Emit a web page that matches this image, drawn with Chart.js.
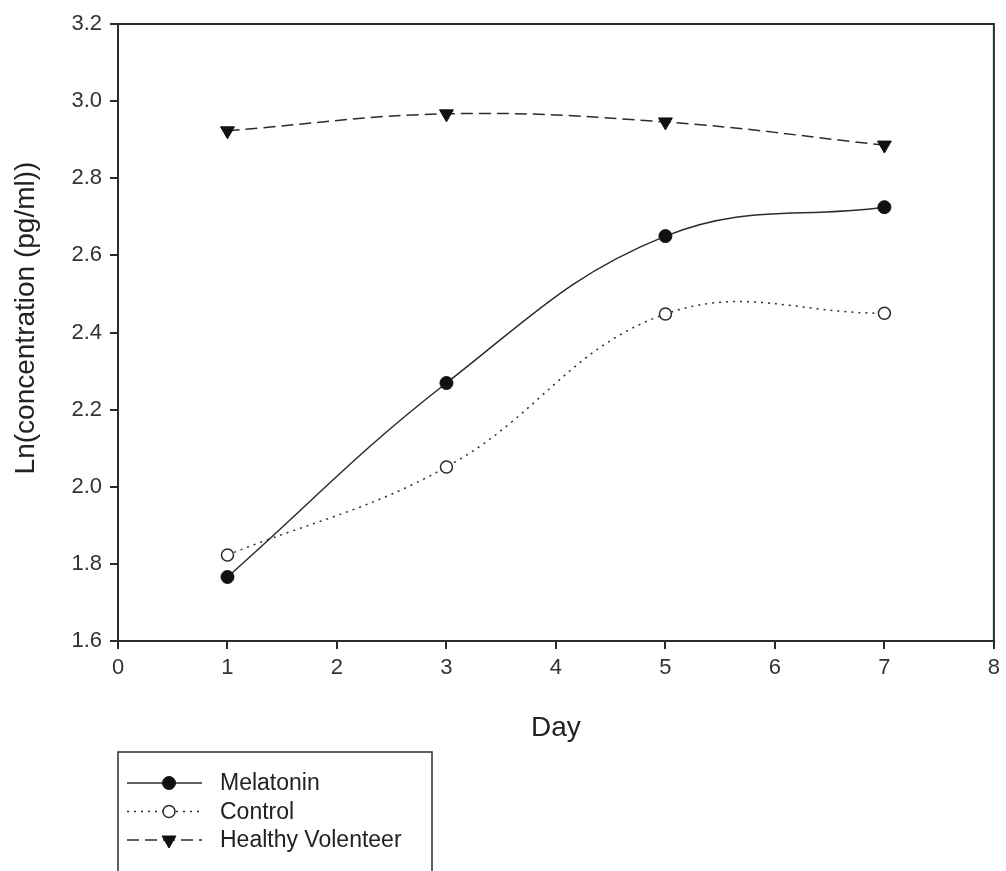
<!DOCTYPE html>
<html>
<head>
<meta charset="utf-8">
<script src="https://cdn.jsdelivr.net/npm/chart.js@4"></script>
<style>
  html, body { margin: 0; padding: 0; background: #fff; }
  #wrap { width: 1006px; height: 871px; position: relative; }
</style>
</head>
<body>
<div id="wrap"><canvas id="chart"></canvas></div>
<script>
// data
const days       = [1, 3, 5, 7];
const melatonin  = [1.766, 2.269, 2.650, 2.725];
const control    = [1.823, 2.051, 2.448, 2.450];
const healthy    = [2.923, 2.967, 2.946, 2.886];
const seriesNames = ['Melatonin', 'Control', 'Healthy Volenteer'];
const yTitle = 'Ln(concentration (pg/ml))';

const INK  = '#2b2b2b';
const FONT = 'Liberation Sans, Arial, sans-serif';

const pts = vals => days.map((d, i) => ({ x: d, y: vals[i] }));

// box around the plot, y title (sits a bit above centre in the original) and legend underneath
const framePlugin = {
  id: 'frame',
  afterDraw(chart) {
    const { ctx, chartArea: a } = chart;
    ctx.save();
    ctx.strokeStyle = INK;
    ctx.lineWidth = 2;
    ctx.beginPath();
    ctx.moveTo(a.left, a.top);
    ctx.lineTo(a.right, a.top);
    ctx.lineTo(a.right, a.bottom);
    ctx.stroke();

    ctx.save();
    ctx.translate(26, 318);
    ctx.rotate(-Math.PI / 2);
    ctx.font = '28px ' + FONT;
    ctx.fillStyle = '#222';
    ctx.textAlign = 'center';
    ctx.textBaseline = 'middle';
    ctx.fillText(yTitle, 0, 0);
    ctx.restore();

    // legend
    ctx.lineWidth = 1.5;
    ctx.strokeRect(118, 752, 314, 140);
    ctx.font = '23px ' + FONT;
    ctx.textBaseline = 'middle';
    chart.data.datasets.forEach((ds, i) => {
      const y = 783 + i * 28.5;
      ctx.strokeStyle = INK;
      ctx.lineWidth = 1.5;
      ctx.setLineDash(ds.borderDash || []);
      ctx.beginPath();
      ctx.moveTo(127, y);
      ctx.lineTo(202, y);
      ctx.stroke();
      ctx.setLineDash([]);
      ctx.fillStyle = ds.pointBackgroundColor;
      ctx.strokeStyle = ds.pointBorderColor;
      ctx.lineWidth = ds.pointBorderWidth;
      Chart.helpers.drawPoint(ctx, {
        pointStyle: ds.pointStyle,
        radius: ds.pointRadius,
        rotation: ds.pointRotation || 0,
        borderWidth: ds.pointBorderWidth
      }, 169, y);
      ctx.fillStyle = '#222';
      ctx.fillText(ds.label, 220, y + 1);
    });
    ctx.restore();
  }
};

new Chart(document.getElementById('chart'), {
  type: 'scatter',
  data: {
    datasets: [
      {
        label: seriesNames[0], data: pts(melatonin), showLine: true,
        borderColor: INK, borderWidth: 1.5, tension: 0.4,
        pointStyle: 'circle', pointRadius: 6.5, pointBorderWidth: 1,
        pointBackgroundColor: '#111', pointBorderColor: '#111'
      },
      {
        label: seriesNames[1], data: pts(control), showLine: true,
        borderColor: INK, borderWidth: 1.5, borderDash: [2, 5], tension: 0.4,
        pointStyle: 'circle', pointRadius: 6, pointBorderWidth: 1.5,
        pointBackgroundColor: '#fff', pointBorderColor: INK
      },
      {
        label: seriesNames[2], data: pts(healthy), showLine: true,
        borderColor: INK, borderWidth: 1.5, borderDash: [12, 6], tension: 0.4,
        pointStyle: 'triangle', pointRadius: 8, pointRotation: 180, pointBorderWidth: 1,
        pointBackgroundColor: '#111', pointBorderColor: '#111'
      }
    ]
  },
  options: {
    responsive: true,
    maintainAspectRatio: false,
    animation: false,
    layout: { padding: { top: 24, right: 12, bottom: 130, left: 0 } },
    plugins: { legend: { display: false }, tooltip: { enabled: false } },
    scales: {
      x: {
        type: 'linear', min: 0, max: 8,
        afterFit: s => { s.height = 100; },
        ticks: { stepSize: 1, color: '#333', padding: 6, font: { family: FONT, size: 22 } },
        grid: { drawOnChartArea: false, tickLength: 8, color: INK, lineWidth: 2 },
        border: { color: INK, width: 2 },
        title: { display: true, text: 'Day', color: '#222', padding: { top: 20, bottom: -4 }, font: { family: FONT, size: 28 } }
      },
      y: {
        min: 1.6, max: 3.2,
        afterFit: s => { s.width = 118; },
        ticks: { stepSize: 0.2, color: '#333', padding: 8, font: { family: FONT, size: 22 },
                 callback: v => v.toFixed(1) },
        grid: { drawOnChartArea: false, tickLength: 8, color: INK, lineWidth: 2 },
        border: { color: INK, width: 2 }
      }
    }
  },
  plugins: [framePlugin]
});
</script>
</body>
</html>
